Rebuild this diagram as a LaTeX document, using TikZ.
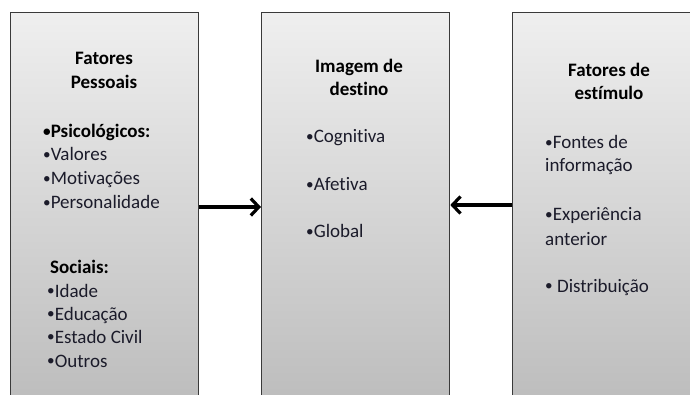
\documentclass[tikz,border=0pt]{standalone}
\usepackage{fontspec}
\setmainfont[RawFeature={-liga;-dlig;-clig}]{Carlito}
\usetikzlibrary{arrows.meta}
\definecolor{ink}{HTML}{1B1B2A}
\definecolor{edge}{HTML}{3A3A3A}
\definecolor{shadetop}{HTML}{EFEFEF}
\definecolor{shadebot}{HTML}{BCBCBC}
% small list bullet
\newcommand{\blt}{\raisebox{0.12ex}{\scalebox{0.8}{•}}}
\begin{document}
\begin{tikzpicture}[x=1pt,y=-1pt,
  panel/.style={draw=edge, line width=1.3pt, top color=shadetop, bottom color=shadebot,
    minimum width=188pt, minimum height=395pt, inner sep=0pt, anchor=north west},
  item/.style={text=ink, font=\fontsize{19}{22}\selectfont, inner sep=0pt, anchor=base west},
  head/.style={text=black, font=\fontsize{19}{22}\selectfont\bfseries, inner sep=0pt, anchor=base},
  link/.style={line width=3.2pt, -{Straight Barb[length=8pt,width=17pt,line width=3.2pt]}}]
\useasboundingbox (0,0) rectangle (690,395);
\clip (0,0) rectangle (690,395);

% three panels
\node[panel] (pers) at (10,12) {};
\node[panel] (img) at (261,12) {};
\node[panel, minimum width=200pt] (estim) at (512,12) {};

% personal factors
\node[head] (p1) at (104,65) {Fatores};
\node[head] (p2) at (104,89) {Pessoais};
\node[item, font=\fontsize{19}{22}\selectfont\bfseries, text=black] (p3) at (43,138) {\blt Psicológicos:};
\node[item] (p4) at (43,161) {\blt Valores};
\node[item] (p5) at (43,185) {\blt Motivações};
\node[item] (p6) at (43,209) {\blt Personalidade};
\node[item, font=\fontsize{19}{22}\selectfont\bfseries, text=black] (p7) at (50,273) {Sociais:};
\node[item] (p8) at (47,297) {\blt Idade};
\node[item] (p9) at (47,320) {\blt Educação};
\node[item] (p10) at (47,343) {\blt Estado Civil};
\node[item] (p11) at (47,367) {\blt Outros};

% destination image
\node[head] (i1) at (359,73) {Imagem de};
\node[head] (i2) at (359,96) {destino};
\node[item] (i3) at (306,143) {\blt Cognitiva};
\node[item] (i4) at (306,191) {\blt Afetiva};
\node[item] (i5) at (306,238) {\blt Global};

% stimulus factors
\node[head] (s1) at (609,77) {Fatores de};
\node[head] (s2) at (609,100) {estímulo};
\node[item] (s3) at (545,149) {\blt Fontes de};
\node[item] (s4) at (545,172) {informação};
\node[item] (s5) at (545,221) {\blt Experiência};
\node[item] (s6) at (545,245) {anterior};
\node[item] (s7) at (545,292) {\blt\ Distribuição};

% connectors
\draw[link] (pers.east |- 0,207) -- (img.west |- 0,207);
\draw[link] (estim.west |- 0,205) -- (img.east |- 0,205);
\end{tikzpicture}
\end{document}
